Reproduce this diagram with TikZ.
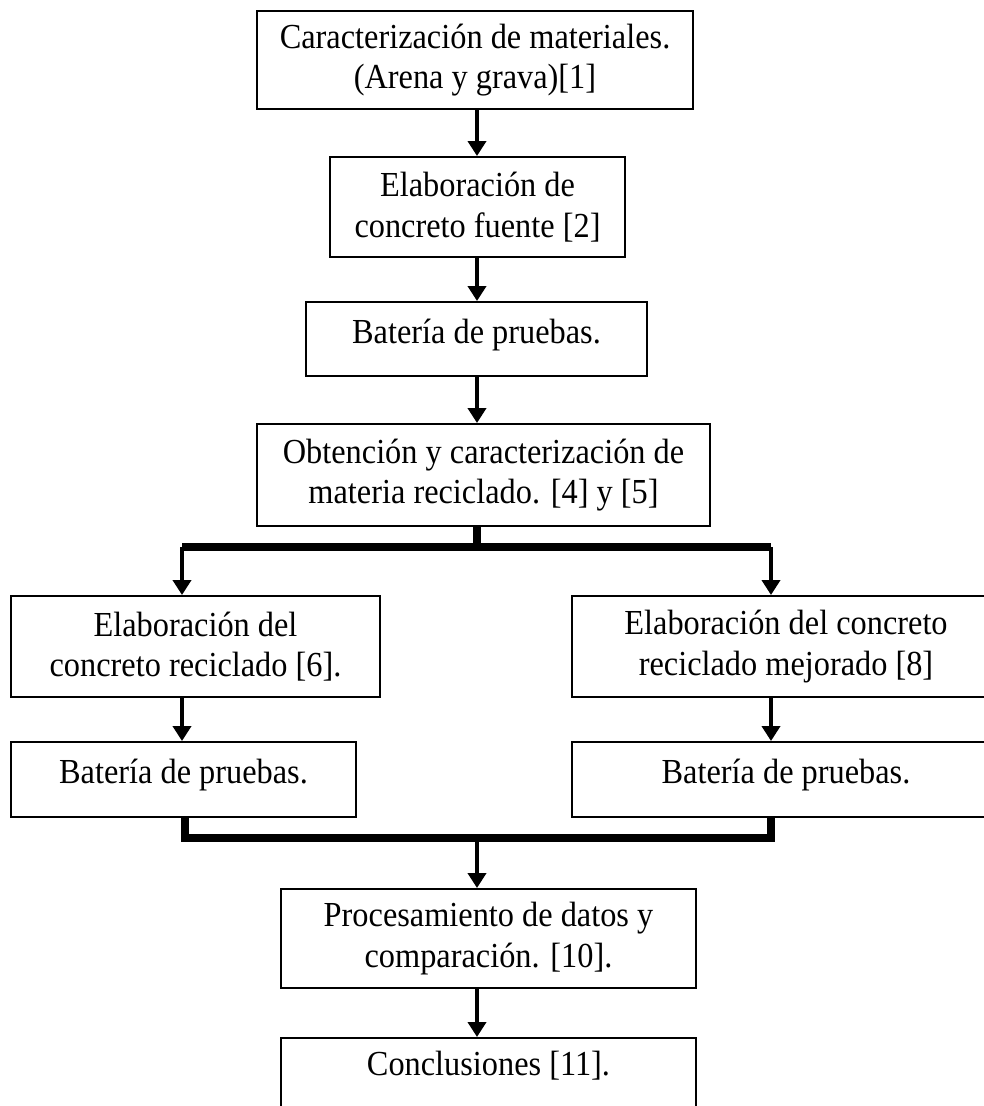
\documentclass[tikz,border=0pt]{standalone}
\usepackage{fontspec}
\setmainfont{Liberation Serif}[FakeStretch=0.92]
\usepackage{tikz}
\usetikzlibrary{arrows.meta,positioning,calc}

\begin{document}
\begin{tikzpicture}[
    caja/.style={draw, line width=1.1pt, align=center, inner sep=0pt,
                 font=\fontsize{20}{23}\selectfont},
    flecha/.style={-{Triangle[width=0.36cm,length=0.3cm]}, line width=0.09cm},
    barra/.style={line width=0.15cm},
]
    \useasboundingbox (0,0) rectangle (19.66,-22.12);
    % Central column
    \node[caja, minimum width=8.72cm, minimum height=1.96cm] (b1) at (9.50,-1.20)
        {Caracterización de materiales.\\(Arena y grava)[1]};
    \node[caja, minimum width=5.90cm, minimum height=2.00cm] (b2) at (9.55,-4.14)
        {Elaboración de\\concreto fuente [2]};
    \node[caja, minimum width=6.82cm, minimum height=1.48cm, text depth=9pt] (b3) at (9.53,-6.78)
        {Batería de pruebas.};
    \node[caja, minimum width=9.06cm, minimum height=2.04cm] (b4) at (9.67,-9.50)
        {Obtención y caracterización de\\materia reciclado. [4] y [5]};
    % Two branches (right ones run past the page edge)
    \node[caja, minimum width=7.38cm, minimum height=2.02cm] (b5) at (3.91,-12.93)
        {Elaboración del\\concreto reciclado [6].};
    \node[caja, minimum width=8.56cm, minimum height=2.02cm] (b6) at (15.72,-12.93)
        {Elaboración del concreto\\reciclado mejorado [8]};
    \node[caja, minimum width=6.90cm, minimum height=1.50cm, text depth=9pt] (b7) at (3.67,-15.59)
        {Batería de pruebas.};
    \node[caja, minimum width=8.56cm, minimum height=1.50cm, text depth=9pt] (b8) at (15.72,-15.59)
        {Batería de pruebas.};
    \draw[line width=1.1pt] (b6.north east) -- ++(0.6,0) (b6.south east) -- ++(0.6,0);
    \draw[line width=1.1pt] (b8.north east) -- ++(0.6,0) (b8.south east) -- ++(0.6,0);
    % Closing column
    \node[caja, minimum width=8.30cm, minimum height=1.98cm] (b9) at (9.77,-18.77)
        {Procesamiento de datos y\\comparación. [10].};
    \node[caja, minimum width=8.30cm, anchor=north, inner ysep=7.5pt, text depth=1.6cm] (b10) at (9.77,-20.74)
        {Conclusiones [11].};

    \coordinate (eje) at (9.54,0);
    \coordinate (izq) at (3.64,-10.94);
    \coordinate (der) at (15.42,-10.94);
    \coordinate (cen) at (9.54,-10.94);
    \coordinate (izqb) at (3.70,-16.76);
    \coordinate (derb) at (15.42,-16.76);
    \coordinate (cenb) at (9.54,-16.76);

    % Arrows down the middle
    \draw[flecha] (b1.south -| eje) -- (b2.north -| eje);
    \draw[flecha] (b2.south -| eje) -- (b3.north -| eje);
    \draw[flecha] (b3.south -| eje) -- (b4.north -| eje);
    % Split
    \draw[barra] (b4.south -| cen) -- (cen);
    \draw[barra] (izq) -- (der);
    \draw[flecha] (izq) -- (b5.north -| izq);
    \draw[flecha] (der) -- (b6.north -| der);
    \draw[flecha] (b5.south -| izq) -- (b7.north -| izq);
    \draw[flecha] (b6.south -| der) -- (b8.north -| der);
    % Join
    \draw[barra] (b7.south -| izqb) -- (izqb) -- (derb) -- (b8.south -| derb);
    \draw[flecha] (cenb) -- (b9.north -| cenb);
    \draw[flecha] (b9.south -| eje) -- (b10.north -| eje);
\end{tikzpicture}
\end{document}
